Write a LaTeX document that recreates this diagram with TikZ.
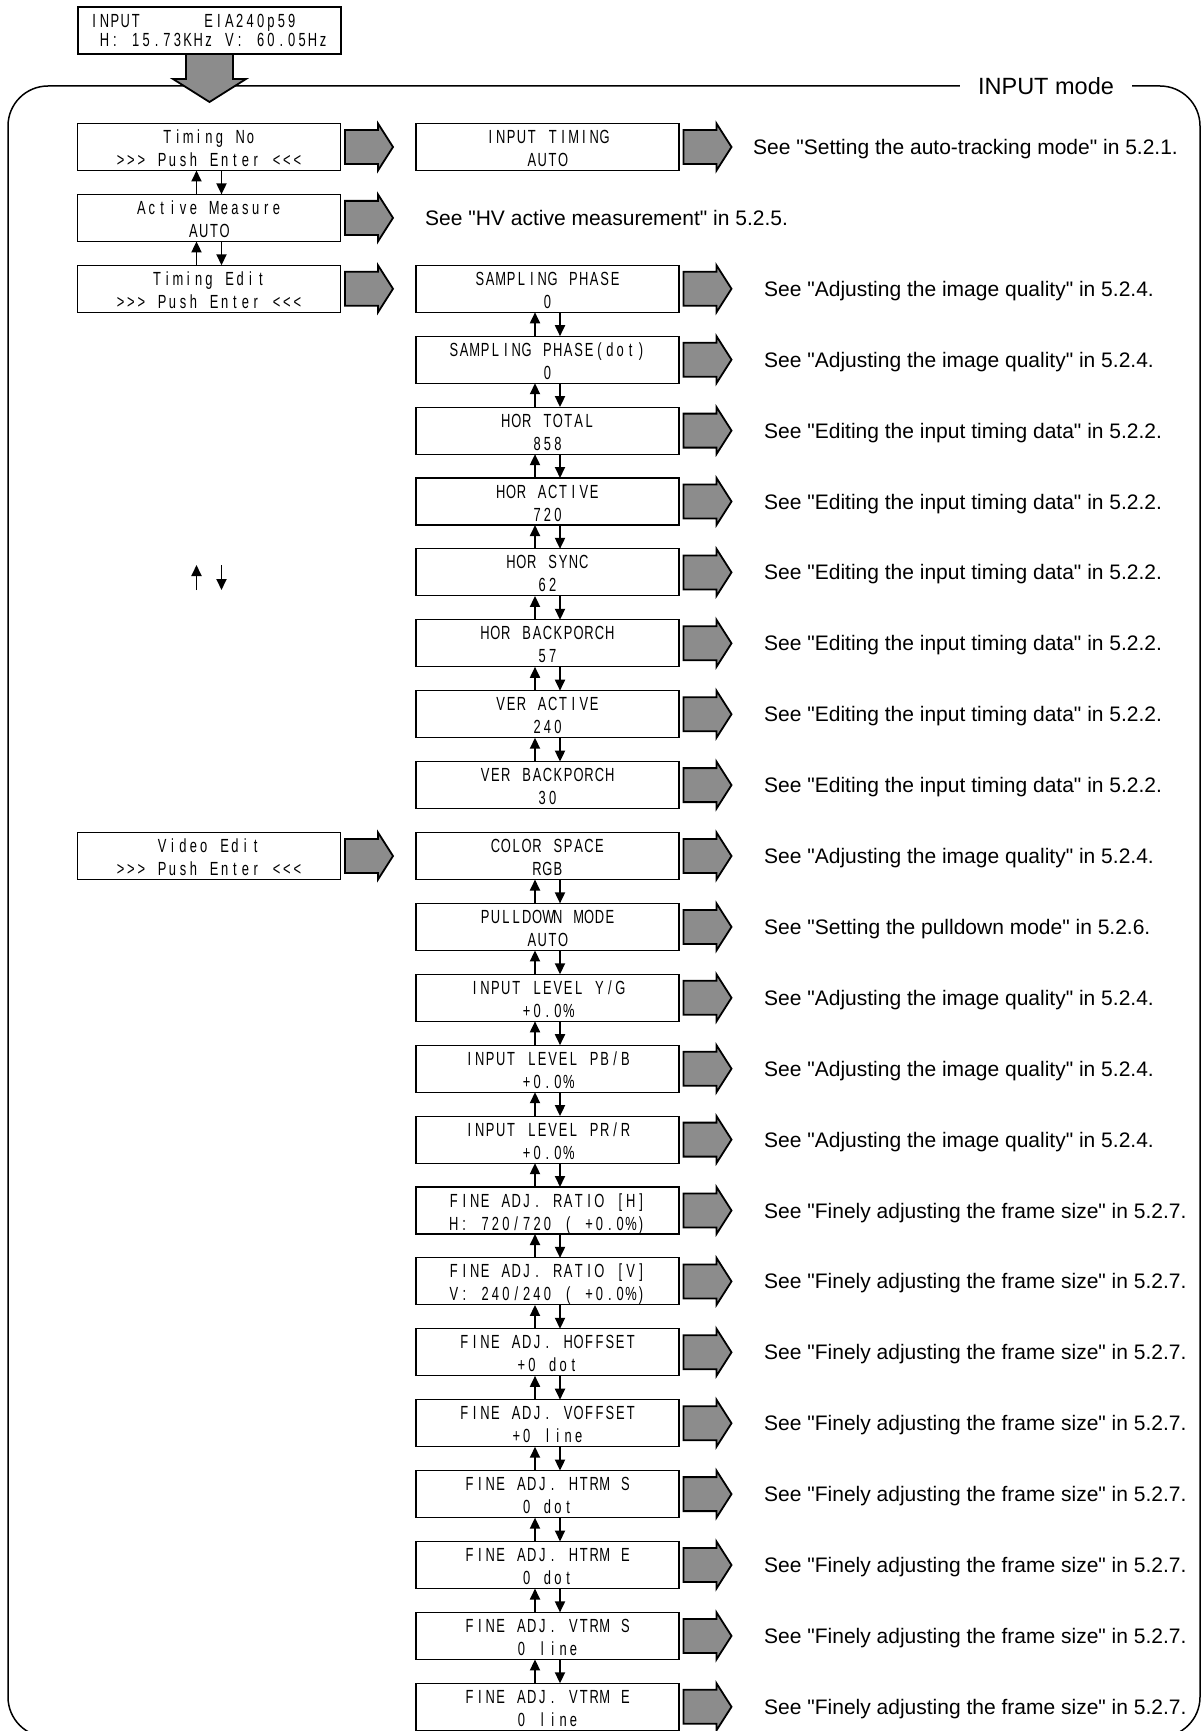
\documentclass[tikz,border=0pt]{standalone}
\usepackage{fontspec}
\setmainfont{Liberation Sans}
\newfontfamily\seefont{Liberation Sans}
\newfontfamily\lcdfont[FakeStretch=0.68]{Liberation Sans}
\usetikzlibrary{arrows.meta,calc}
\ExplSyntaxOn
\cs_new_protected:Npn \lcdtxt #1
  {
    \str_map_inline:nn {#1}
      {
        \str_case:nnF {##1}
          {
            {!} { \hbox_to_wd:nn {10.4pt} { \hfil \% \hfil } }
            {*} { \hbox_to_wd:nn {10.4pt} { } }
          }
          { \hbox_to_wd:nn {10.4pt} { \hfil ##1 \hfil } }
      }
  }
\ExplSyntaxOff
\newcommand\lcdsize{\lcdfont\fontsize{19pt}{21pt}\selectfont}
\newcommand\boxtwo[2]{\vbox to 47pt{\offinterlineskip\kern20pt
  \hbox to 263pt{\hss\smash{\lcdsize\lcdtxt{#1}}\hss}\kern23pt
  \hbox to 263pt{\hss\smash{\lcdsize\lcdtxt{#2}}\hss}\vss}}
\newcommand\boxtop[2]{\vbox to 47pt{\offinterlineskip\kern21pt
  \hbox to 263pt{\hskip11pt\smash{\lcdsize\lcdtxt{#1}}\hss}\kern19pt
  \hbox to 263pt{\hskip11pt\smash{\lcdsize\lcdtxt{#2}}\hss}\vss}}
\definecolor{arrgray}{RGB}{140,140,140}
\tikzset{
  lcdbox/.style={draw, line width=1.1pt, inner sep=0pt, outer sep=0pt, fill=white},
  blockarr/.style={draw, line width=1.8pt, fill=arrgray, line join=miter, miter limit=10},
  smallarr/.style={line width=1.8pt, -{Triangle[width=10pt,length=11pt]}},
  seetxt/.style={anchor=base west, inner sep=0pt, font=\seefont\fontsize{21pt}{25pt}\selectfont},
  frameline/.style={line width=1.5pt, rounded corners=40pt},
}
\newcommand\rblk[1]{\draw[blockarr] ($(#1.east)+(4.5,0)$) ++(0,-17) -- ++(33,0) -- ++(0,-6.5) -- ++(15,23.5) -- ++(-15,23.5) -- ++(0,-6.5) -- ++(-33,0) -- cycle;}
\newcommand\midrow[4]{%
  \node[lcdbox] (m#1) at (547.5,{147+70.9*#1}) {\boxtwo{#2}{#3}};
  \rblk{m#1}
  \node[seetxt] (s#1) at (764,{154.5+70.9*#1}) {#4};}
\newcommand\seeAIQ{See "Adjusting the image quality" in 5.2.4.}
\newcommand\seeEIT{See "Editing the input timing data" in 5.2.2.}
\newcommand\seeFAF{See "Finely adjusting the frame size" in 5.2.7.}
\begin{document}
\begin{tikzpicture}[x=1pt,y=-1pt]
\useasboundingbox (0,0) rectangle (1202,1731);
% frame
\draw[frameline] (8,86) rectangle (1200,1737);
\node[fill=white, inner xsep=18pt, inner ysep=3pt, anchor=base, font=\seefont\fontsize{23.5pt}{28pt}\selectfont] (mode) at (1046,94.4) {INPUT mode};
% top display
\node[lcdbox] (top) at (209.5,30.5) {\boxtop{INPUT******EIA240p59}{*H: 15.73KHz V: 60.05Hz}};
\draw[blockarr] (top.south) ++(-23.5,0) -- ++(0,25) -- ++(-13,0) -- ++(36.5,23) -- ++(36.5,-23) -- ++(-13,0) -- ++(0,-25) -- cycle;
% left column
\node[lcdbox] (l0) at (209,147) {\boxtwo{Timing No}{>>> Push Enter <<<}};
\node[lcdbox] (l1) at (209,217.9) {\boxtwo{Active Measure}{AUTO}};
\node[lcdbox] (l2) at (209,288.8) {\boxtwo{Timing Edit}{>>> Push Enter <<<}};
\node[lcdbox] (l10) at (209,856) {\boxtwo{Video Edit}{>>> Push Enter <<<}};
\rblk{l0}\rblk{l1}\rblk{l2}\rblk{l10}
\node[seetxt] (s1) at (425,225.4) {See "HV active measurement" in 5.2.5.};
\draw[smallarr] ([xshift=-12.5pt]l1.north) -- ([xshift=-12.5pt]l0.south);
\draw[smallarr] ([xshift=12.5pt]l0.south) -- ([xshift=12.5pt]l1.north);
\draw[smallarr] ([xshift=-12.5pt]l2.north) -- ([xshift=-12.5pt]l1.south);
\draw[smallarr] ([xshift=12.5pt]l1.south) -- ([xshift=12.5pt]l2.north);
% stray arrows
\coordinate (ua1) at (196.5,590); \coordinate (ua2) at (196.5,565);
\coordinate (da1) at (221.5,565); \coordinate (da2) at (221.5,590);
\draw[smallarr] (ua1) -- (ua2);
\draw[smallarr] (da1) -- (da2);
% middle column
\node[lcdbox] (m0) at (547.5,147) {\boxtwo{INPUT TIMING}{AUTO}};
\rblk{m0}
\node[seetxt] (s0) at (753,154.5) {See "Setting the auto-tracking mode" in 5.2.1.};
\midrow{2}{SAMPLING PHASE}{0}{\seeAIQ}
\midrow{3}{SAMPLING PHASE(dot)}{0}{\seeAIQ}
\midrow{4}{HOR TOTAL}{858}{\seeEIT}
\midrow{5}{HOR ACTIVE}{720}{\seeEIT}
\midrow{6}{HOR SYNC}{62}{\seeEIT}
\midrow{7}{HOR BACKPORCH}{57}{\seeEIT}
\midrow{8}{VER ACTIVE}{240}{\seeEIT}
\midrow{9}{VER BACKPORCH}{30}{\seeEIT}
\midrow{10}{COLOR SPACE}{RGB}{\seeAIQ}
\midrow{11}{PULLDOWN MODE}{AUTO}{See "Setting the pulldown mode" in 5.2.6.}
\midrow{12}{INPUT LEVEL Y/G}{+0.0!}{\seeAIQ}
\midrow{13}{INPUT LEVEL PB/B}{+0.0!}{\seeAIQ}
\midrow{14}{INPUT LEVEL PR/R}{+0.0!}{\seeAIQ}
\midrow{15}{FINE ADJ. RATIO [H]}{H: 720/720 ( +0.0!)}{\seeFAF}
\midrow{16}{FINE ADJ. RATIO [V]}{V: 240/240 ( +0.0!)}{\seeFAF}
\midrow{17}{FINE ADJ. HOFFSET}{+0 dot}{\seeFAF}
\midrow{18}{FINE ADJ. VOFFSET}{+0 line}{\seeFAF}
\midrow{19}{FINE ADJ. HTRM S}{0 dot}{\seeFAF}
\midrow{20}{FINE ADJ. HTRM E}{0 dot}{\seeFAF}
\midrow{21}{FINE ADJ. VTRM S}{0 line}{\seeFAF}
\midrow{22}{FINE ADJ. VTRM E}{0 line}{\seeFAF}
\foreach \k in {2,3,4,5,6,7,8,10,11,12,13,14,15,16,17,18,19,20,21}{
  \pgfmathtruncatemacro\n{\k+1}
  \draw[smallarr] ([xshift=-12.5pt]m\n.north) -- ([xshift=-12.5pt]m\k.south);
  \draw[smallarr] ([xshift=12.5pt]m\k.south) -- ([xshift=12.5pt]m\n.north);
}
\end{tikzpicture}
\end{document}
